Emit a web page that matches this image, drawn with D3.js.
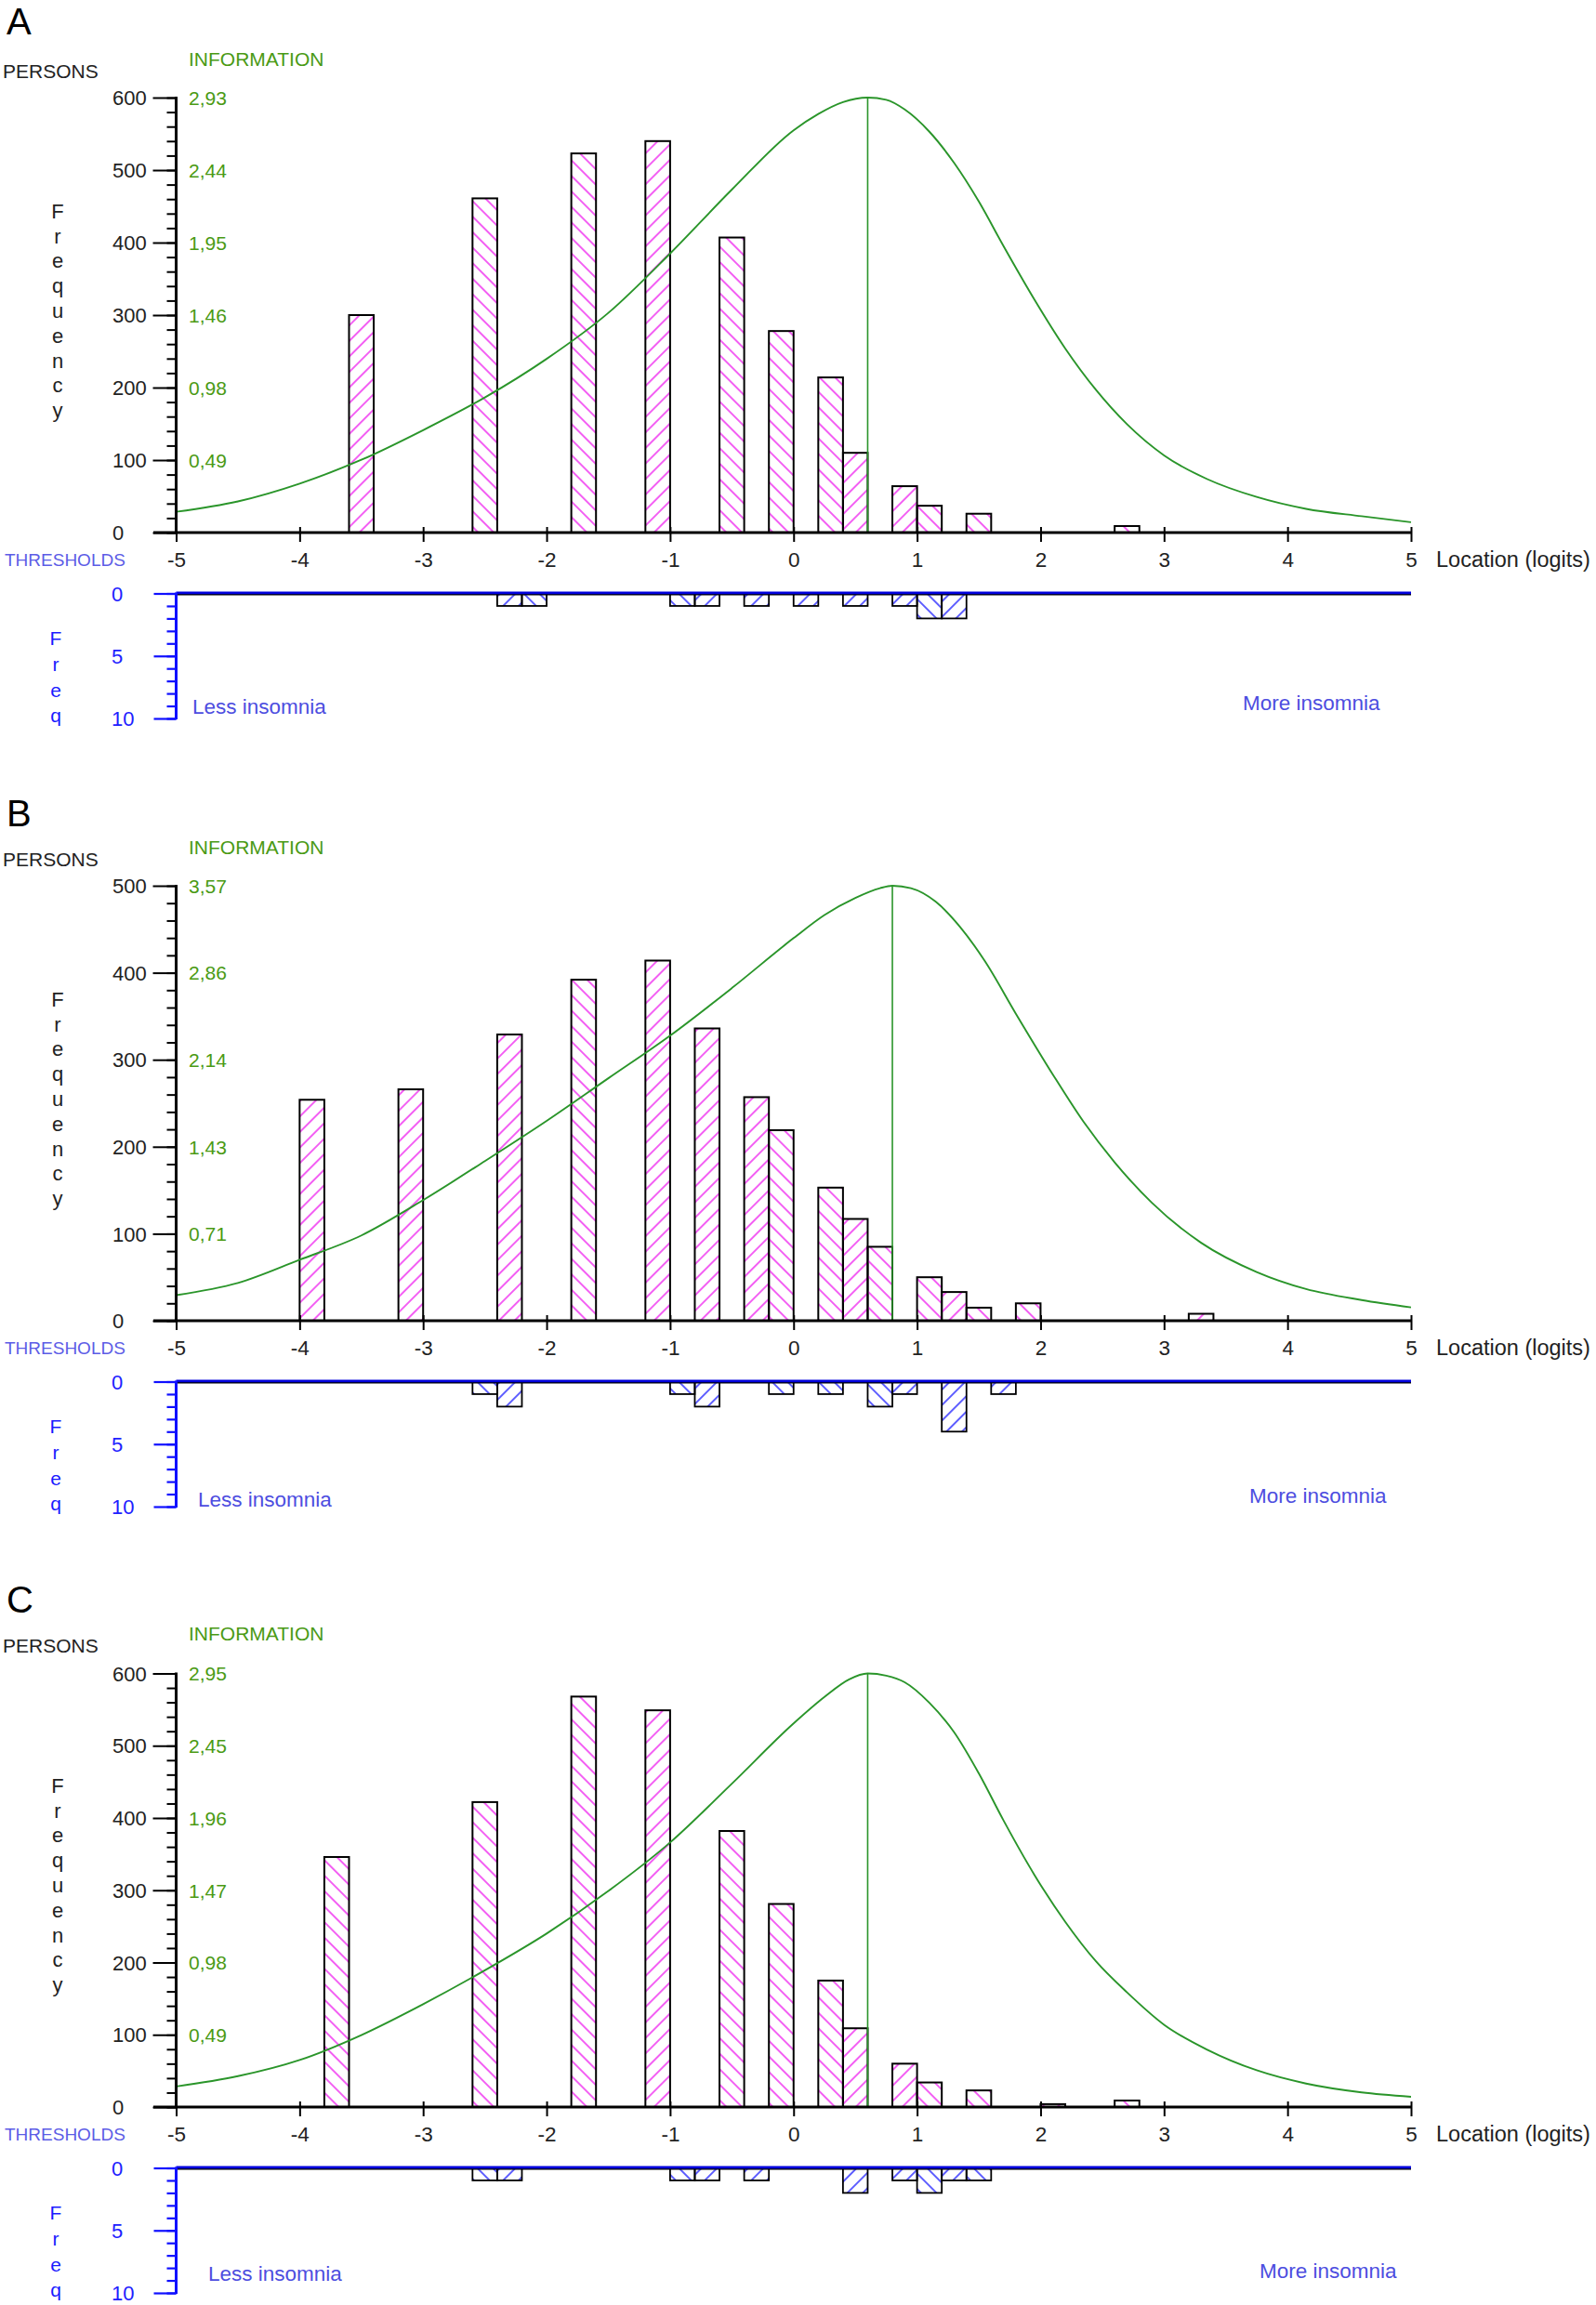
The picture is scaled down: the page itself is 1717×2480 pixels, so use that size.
<!DOCTYPE html>
<html><head><meta charset="utf-8">
<script src="https://cdn.jsdelivr.net/npm/d3@7"></script>
<style>
html,body{margin:0;padding:0;background:#fff;}
svg{display:block;}
text{font-family:"Liberation Sans",Arial,sans-serif;}
</style></head><body>
<svg id="chart" width="1717" height="2480"></svg>
<script>
// ---------------- DATA ----------------
const panelNames = ["A", "B", "C"];
const binWidth = 0.2;

// Person-location histogram: bin centres (logits) and frequencies
const personsA_loc  = [-3.5, -2.5, -1.7, -1.1, -0.5, -0.1, 0.3, 0.5, 0.9, 1.1, 1.5, 2.7];
const personsA_freq = [300, 461, 523, 540, 407, 278, 214, 110, 64, 37, 26, 9];
const personsB_loc  = [-3.9, -3.1, -2.3, -1.7, -1.1, -0.7, -0.3, -0.1, 0.3, 0.5, 0.7, 1.1, 1.3, 1.5, 1.9, 3.3];
const personsB_freq = [254, 266, 329, 392, 414, 336, 257, 219, 153, 117, 85, 50, 33, 15, 20, 8];
const personsC_loc  = [-3.7, -2.5, -1.7, -1.1, -0.5, -0.1, 0.3, 0.5, 0.9, 1.1, 1.5, 2.1, 2.7];
const personsC_freq = [346, 422, 568, 549, 382, 281, 175, 109, 60, 34, 23, 4, 9];

// Threshold histogram: bin centres and frequencies
const thrA_loc  = [-2.3, -2.1, -0.9, -0.7, -0.3, 0.1, 0.5, 0.9, 1.1, 1.3];
const thrA_freq = [1, 1, 1, 1, 1, 1, 1, 1, 2, 2];
const thrB_loc  = [-2.5, -2.3, -0.9, -0.7, -0.1, 0.3, 0.7, 0.9, 1.3, 1.7];
const thrB_freq = [1, 2, 1, 2, 1, 1, 2, 1, 4, 1];
const thrC_loc  = [-2.5, -2.3, -0.9, -0.7, -0.3, 0.5, 0.9, 1.1, 1.3, 1.5];
const thrC_freq = [1, 1, 1, 1, 1, 2, 1, 2, 1, 1];

// Test information curve: location (logits) and information
const infoA_loc = [-5, -4.5, -4, -3.5, -3, -2.5, -2, -1.5, -1, -0.5, 0, 0.2, 0.4, 0.6, 0.75, 0.9, 1.1, 1.3, 1.5, 1.7, 1.95, 2.2, 2.45, 2.7, 3.0, 3.35, 3.75, 4.15, 4.6, 5];
const infoA_val = [0.14, 0.21, 0.33, 0.49, 0.69, 0.91, 1.17, 1.48, 1.88, 2.31, 2.71, 2.82, 2.90, 2.93, 2.915, 2.85, 2.70, 2.49, 2.23, 1.93, 1.57, 1.24, 0.96, 0.73, 0.52, 0.36, 0.24, 0.16, 0.11, 0.07];
const infoB_loc = [-5, -4.5, -4, -3.5, -3, -2.5, -2, -1.5, -1, -0.5, 0, 0.25, 0.5, 0.7, 0.8, 0.95, 1.15, 1.35, 1.55, 1.8, 2.1, 2.35, 2.6, 2.9, 3.3, 3.75, 4.15, 4.6, 5];
const infoB_val = [0.21, 0.31, 0.50, 0.70, 0.99, 1.31, 1.64, 1.99, 2.34, 2.73, 3.14, 3.33, 3.47, 3.55, 3.57, 3.55, 3.44, 3.23, 2.95, 2.52, 2.02, 1.63, 1.30, 0.97, 0.64, 0.40, 0.26, 0.17, 0.11];
const infoC_loc = [-5, -4.5, -4, -3.5, -3, -2.5, -2, -1.5, -1, -0.5, 0, 0.25, 0.45, 0.6, 0.75, 0.9, 1.1, 1.3, 1.5, 1.7, 1.95, 2.2, 2.45, 2.7, 3.0, 3.35, 3.75, 4.15, 4.6, 5];
const infoC_val = [0.14, 0.21, 0.32, 0.49, 0.70, 0.93, 1.18, 1.47, 1.80, 2.20, 2.61, 2.79, 2.91, 2.95, 2.935, 2.89, 2.75, 2.55, 2.27, 1.95, 1.58, 1.26, 0.99, 0.78, 0.56, 0.39, 0.25, 0.16, 0.10, 0.07];

// Location of maximum information
const peakLoc = [0.6, 0.8, 0.6];

// Axis tick labels
const freqMax = [600, 500, 600];
const infoLabelsA = ["0,49", "0,98", "1,46", "1,95", "2,44", "2,93"];
const infoLabelsB = ["0,71", "1,43", "2,14", "2,86", "3,57"];
const infoLabelsC = ["0,49", "0,98", "1,47", "1,96", "2,45", "2,95"];
const infoMax = [2.93, 3.57, 2.95];
const xTicks = [-5, -4, -3, -2, -1, 0, 1, 2, 3, 4, 5];
const thrTicksMajor = [0, 5, 10];

const persLoc = [personsA_loc, personsB_loc, personsC_loc];
const persFreq = [personsA_freq, personsB_freq, personsC_freq];
const thrLoc = [thrA_loc, thrB_loc, thrC_loc];
const thrFreq = [thrA_freq, thrB_freq, thrC_freq];
const infoLoc = [infoA_loc, infoB_loc, infoC_loc];
const infoVal = [infoA_val, infoB_val, infoC_val];
const infoLabels = [infoLabelsA, infoLabelsB, infoLabelsC];

// ---------------- LAYOUT ----------------
const panelOffset = [0, 848, 1694];
const letterBase = [37, 41, 41];
const plotTop = [105, 105, 106.5];
const plotBottom = 573;
const thrTop = 638.5, thrBottom = 773;
const lessPos = [[207, 760], [213, 765], [224, 752]];
const morePos = [[1337, 756], [1344, 761], [1355, 749]];

const svg = d3.select("#chart");
const x = d3.scaleLinear().domain([-5, 5]).range([189.5, 1518]);
const AX = x(-5);

const PINK = "#f02cf0", BLUEH = "#2a2aff", GREEN = "#2a952a", INFOTXT = "#4a9a14";
const TXT = "#222";

// hatch patterns
const defs = svg.append("defs");
function hatch(id, color, ang) {
  const s = 11.8;
  defs.append("pattern").attr("id", id)
    .attr("patternUnits", "userSpaceOnUse")
    .attr("width", s).attr("height", s)
    .attr("patternTransform", `rotate(${ang})`)
    .append("line").attr("x1", s / 2).attr("x2", s / 2).attr("y1", -1).attr("y2", s + 1)
    .attr("stroke", color).attr("stroke-width", 1.5);
}
hatch("pinkF", PINK, 45);   // "/"
hatch("pinkB", PINK, -45);  // "\"
hatch("blueF", BLUEH, 45);
hatch("blueB", BLUEH, -45);
function isFwd(c) { return Math.round((c - binWidth / 2 + 5) / binWidth) % 2 === 1; }

panelNames.forEach((name, p) => {
  const g = svg.append("g").attr("transform", `translate(0,${panelOffset[p]})`);
  const yF = d3.scaleLinear().domain([0, freqMax[p]]).range([plotBottom, plotTop[p]]);
  const yI = d3.scaleLinear().domain([0, infoMax[p]]).range([plotBottom, plotTop[p]]);
  const yT = d3.scaleLinear().domain([0, 10]).range([thrTop, thrBottom]);

  // panel letter
  g.append("text").attr("x", 7).attr("y", letterBase[p]).text(name)
    .attr("font-size", 40).attr("fill", "#000");

  // titles
  g.append("text").attr("x", 3).attr("y", 77).attr("dy", "0.35em").text("PERSONS")
    .attr("font-size", 21).attr("fill", TXT);
  g.append("text").attr("x", 203).attr("y", 64).attr("dy", "0.35em").text("INFORMATION")
    .attr("font-size", 21).attr("fill", INFOTXT);
  "Frequency".split("").forEach((ch, i) => {
    g.append("text").attr("x", 62).attr("y", 227 + i * 26.8).attr("dy", "0.35em")
      .attr("text-anchor", "middle").attr("font-size", 22).attr("fill", TXT).text(ch);
  });

  // person bars
  const pdata = persLoc[p].map((c, i) => ({ c, f: persFreq[p][i] }));
  g.append("g").selectAll("rect").data(pdata).join("rect")
    .attr("x", d => x(d.c - binWidth / 2))
    .attr("width", d => x(d.c + binWidth / 2) - x(d.c - binWidth / 2))
    .attr("y", d => yF(d.f))
    .attr("height", d => plotBottom - yF(d.f))
    .attr("fill", d => isFwd(d.c) ? "url(#pinkF)" : "url(#pinkB)")
    .attr("stroke", "#000").attr("stroke-width", 2);

  // information curve
  const idata = infoLoc[p].map((l, i) => ({ l, v: infoVal[p][i] }));
  g.append("path").datum(idata)
    .attr("d", d3.line().x(d => x(d.l)).y(d => yI(d.v)).curve(d3.curveMonotoneX))
    .attr("fill", "none").attr("stroke", GREEN).attr("stroke-width", 1.9);
  g.append("line").attr("x1", x(peakLoc[p])).attr("x2", x(peakLoc[p]))
    .attr("y1", plotBottom).attr("y2", yI(infoMax[p]))
    .attr("stroke", GREEN).attr("stroke-width", 1.6);

  // y axis (frequency) minor + major
  const minor = g.append("g").attr("transform", `translate(${AX},0)`)
    .call(d3.axisLeft(yF).tickValues(d3.range(0, freqMax[p] + 1, 20)).tickSize(10).tickFormat(""));
  minor.select(".domain").remove();
  minor.selectAll(".tick line").attr("stroke", "#000").attr("stroke-width", 2);
  const major = g.append("g").attr("transform", `translate(${AX},0)`)
    .call(d3.axisLeft(yF).tickValues(d3.range(0, freqMax[p] + 1, 100)).tickSize(25).tickFormat(d => String(d)));
  major.select(".domain").remove();
  major.selectAll(".tick line").attr("stroke", "#000").attr("stroke-width", 2);
  major.selectAll(".tick text").attr("x", 121 - AX).attr("text-anchor", "start")
    .attr("dy", "0.35em").attr("font-size", 22).attr("fill", TXT)
    .attr("font-family", "'Liberation Sans',Arial,sans-serif");
  g.append("line").attr("x1", AX).attr("x2", AX).attr("y1", plotTop[p] - 1).attr("y2", plotBottom)
    .attr("stroke", "#000").attr("stroke-width", 3);

  // information labels
  const infoTickVals = d3.range(freqMax[p] / infoLabels[p].length, freqMax[p] + 1, freqMax[p] / infoLabels[p].length);
  const ia = g.append("g").attr("transform", `translate(${AX},0)`)
    .call(d3.axisRight(yF).tickValues(infoTickVals).tickSize(0).tickPadding(13.5)
      .tickFormat((d, i) => infoLabels[p][i]));
  ia.select(".domain").remove();
  ia.selectAll(".tick text").attr("font-size", 21).attr("fill", INFOTXT).attr("dy", "0.35em")
    .attr("font-family", "'Liberation Sans',Arial,sans-serif");

  // x axis
  const gx = g.append("g").attr("transform", `translate(0,${plotBottom})`)
    .call(d3.axisBottom(x).tickValues(xTicks).tickSize(10).tickFormat(d => String(d)));
  gx.select(".domain").remove();
  gx.selectAll(".tick line").attr("y1", -6).attr("y2", 10).attr("stroke", "#000").attr("stroke-width", 2);
  gx.selectAll(".tick text").attr("y", 29).attr("dy", "0.35em").attr("font-size", 22.5).attr("fill", TXT)
    .attr("font-family", "'Liberation Sans',Arial,sans-serif");
  g.append("line").attr("x1", 165).attr("x2", x(5)).attr("y1", plotBottom).attr("y2", plotBottom)
    .attr("stroke", "#000").attr("stroke-width", 3.2);
  g.append("text").attr("x", 1545).attr("y", 602).attr("dy", "0.35em").text("Location (logits)")
    .attr("font-size", 23.5).attr("fill", TXT);
  g.append("text").attr("x", 5).attr("y", 602).attr("dy", "0.35em").text("THRESHOLDS")
    .attr("font-size", 19).attr("fill", "#5c5ce6");

  // thresholds
  const tdata = thrLoc[p].map((c, i) => ({ c, f: thrFreq[p][i] }));
  g.append("g").selectAll("rect").data(tdata).join("rect")
    .attr("x", d => x(d.c - binWidth / 2))
    .attr("width", d => x(d.c + binWidth / 2) - x(d.c - binWidth / 2))
    .attr("y", thrTop)
    .attr("height", d => yT(d.f) - thrTop)
    .attr("fill", d => isFwd(d.c) ? "url(#blueF)" : "url(#blueB)")
    .attr("stroke", "#000").attr("stroke-width", 1.8);
  g.append("line").attr("x1", AX).attr("x2", x(5)).attr("y1", thrTop + 1.3).attr("y2", thrTop + 1.3)
    .attr("stroke", "#000").attr("stroke-width", 1.6);
  g.append("line").attr("x1", AX).attr("x2", x(5)).attr("y1", thrTop - 0.6).attr("y2", thrTop - 0.6)
    .attr("stroke", "#0000dd").attr("stroke-width", 2.6);

  const tminor = g.append("g").attr("transform", `translate(${AX},0)`)
    .call(d3.axisLeft(yT).tickValues(d3.range(0, 11)).tickSize(10).tickFormat(""));
  tminor.select(".domain").remove();
  tminor.selectAll(".tick line").attr("stroke", "#1010ff").attr("stroke-width", 2.2);
  const tmajor = g.append("g").attr("transform", `translate(${AX},0)`)
    .call(d3.axisLeft(yT).tickValues(thrTicksMajor).tickSize(24).tickFormat(d => String(d)));
  tmajor.select(".domain").remove();
  tmajor.selectAll(".tick line").attr("stroke", "#1010ff").attr("stroke-width", 2.2);
  tmajor.selectAll(".tick text").attr("x", 120 - AX).attr("text-anchor", "start")
    .attr("dy", "0.35em").attr("font-size", 22).attr("fill", "#2020ff")
    .attr("font-family", "'Liberation Sans',Arial,sans-serif");
  g.append("line").attr("x1", AX).attr("x2", AX).attr("y1", thrTop - 1).attr("y2", thrBottom + 1)
    .attr("stroke", "#1010ff").attr("stroke-width", 3);

  "Freq".split("").forEach((ch, i) => {
    g.append("text").attr("x", 60).attr("y", 687 + i * 27.7).attr("dy", "0.35em")
      .attr("text-anchor", "middle").attr("font-size", 21).attr("fill", "#1a1aff").text(ch);
  });
  g.append("text").attr("x", lessPos[p][0]).attr("y", lessPos[p][1]).attr("dy", "0.35em")
    .text("Less insomnia").attr("font-family", "'Open Sans',sans-serif").attr("font-size", 22.5)
    .attr("fill", "#4d4de0");
  g.append("text").attr("x", morePos[p][0]).attr("y", morePos[p][1]).attr("dy", "0.35em")
    .text("More insomnia").attr("font-family", "'Open Sans',sans-serif").attr("font-size", 22.5)
    .attr("fill", "#4d4de0");
});
</script>
</body></html>
